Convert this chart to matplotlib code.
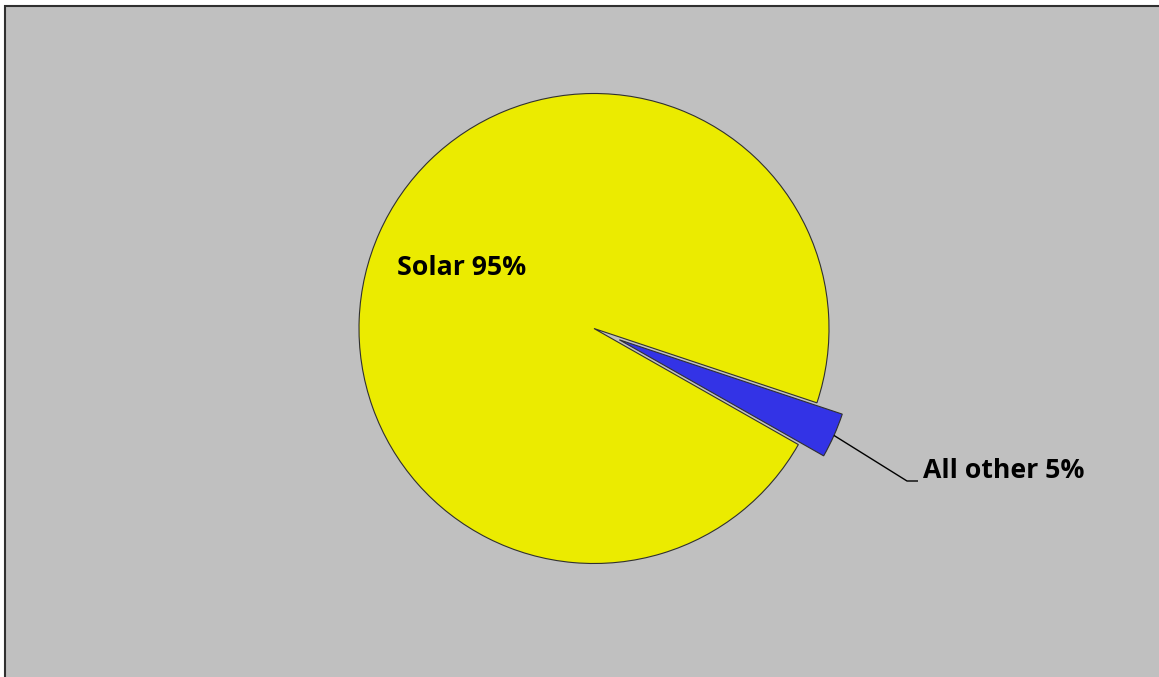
import numpy as np
import matplotlib.pyplot as plt
from matplotlib.patches import Rectangle

labels = ["All other 5%", "Solar 95%"]
shares = [3.1, 96.9]          # drawn wedge sizes (the "All other" wedge is about 11 degrees)
colors = ['#3333E6', '#EBEB00']
explode_frac = [0.118, 0.0]

W, H = 1159, 677
fig = plt.figure(figsize=(W / 100, H / 100), dpi=100, facecolor='white')
ax = fig.add_axes([0, 0, 1, 1])

# plot area background with border
ax.add_patch(Rectangle((5, -20), W + 20, H - 6 + 20, facecolor='#C0C0C0',
                       edgecolor='#303030', linewidth=1.5, zorder=0))

cx, cy, r = 594, H - 328.5, 235
start = -29.6
explode = [e * r for e in explode_frac]   # pie offsets are in data units here
wedges, _ = ax.pie(shares, colors=colors, explode=explode, startangle=start,
                   center=(cx, cy), radius=r, frame=True,
                   wedgeprops=dict(edgecolor='#303030', linewidth=0.8))
for w in wedges:
    w.set_zorder(2)

font = dict(fontsize=19.2, fontweight='bold', family='Open Sans', color='black')

# label inside the yellow slice
ax.text(462, H - 268, labels[1], ha='center', va='center', zorder=3, **font)

# leader line for the small slice
mid = np.deg2rad(start + shares[0] / 100 * 360 / 2)
rr = r + explode[0]
ax_pt = (cx + rr * np.cos(mid), cy + rr * np.sin(mid))
tx, ty = 923, H - 471
ax.plot([ax_pt[0], tx - 16, tx - 5], [ax_pt[1], ty - 10, ty - 10],
        color='black', linewidth=1, zorder=3, solid_capstyle='butt')
ax.text(tx, ty, labels[0], ha='left', va='center', zorder=3, **font)

ax.set_xlim(0, W)
ax.set_ylim(0, H)
ax.set_aspect('auto')
ax.axis('off')

fig.savefig('out.png', dpi=100, facecolor='white')
